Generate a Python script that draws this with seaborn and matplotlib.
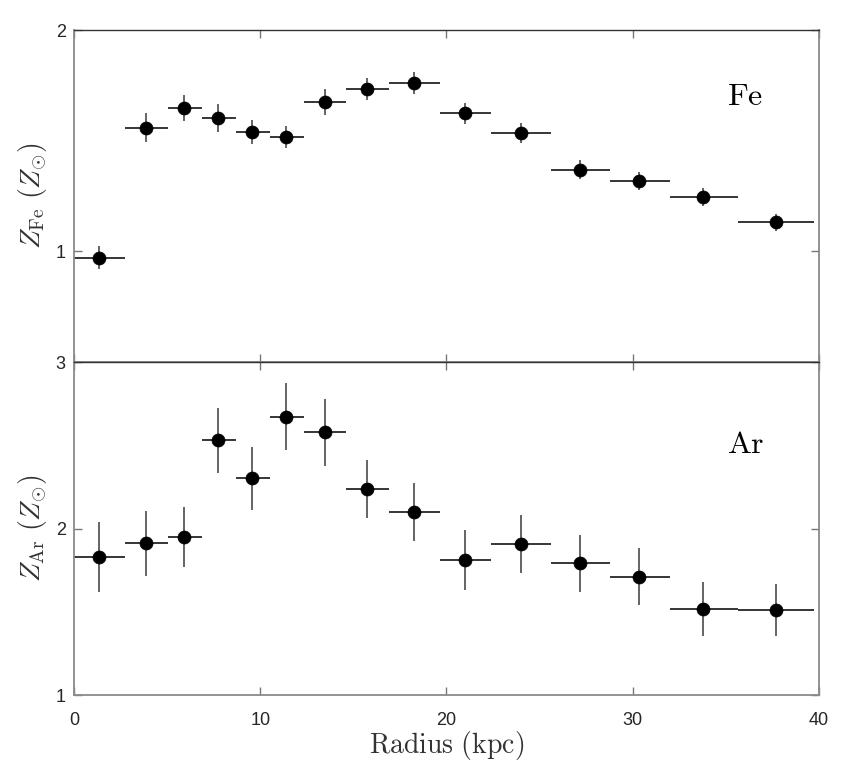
import matplotlib
matplotlib.use("Agg")
import matplotlib.pyplot as plt
import seaborn as sns
import numpy as np
import pandas as pd

# ---- data ----
radius = [1.36, 3.88, 5.92, 7.75, 9.57, 11.38, 13.46, 15.73, 18.26, 21.01,
          23.98, 27.18, 30.35, 33.77, 37.68]
r_inner = [0.0, 2.75, 5.05, 6.87, 8.71, 10.52, 12.35, 14.62, 16.91, 19.66,
           22.39, 25.59, 28.79, 32.00, 35.65]
r_outer = [2.75, 5.05, 6.87, 8.71, 10.52, 12.35, 14.62, 16.91, 19.66, 22.39,
           25.59, 28.79, 32.00, 35.65, 39.75]

fe = [0.971, 1.558, 1.648, 1.603, 1.540, 1.516, 1.676, 1.733, 1.760, 1.623,
      1.534, 1.368, 1.317, 1.246, 1.131]
fe_err = [0.053, 0.066, 0.060, 0.063, 0.055, 0.050, 0.059, 0.050, 0.048, 0.048,
          0.045, 0.043, 0.042, 0.042, 0.037]

ar = [1.827, 1.911, 1.949, 2.530, 2.301, 2.671, 2.578, 2.239, 2.101, 1.811,
      1.909, 1.791, 1.711, 1.517, 1.512]
ar_err = [0.210, 0.194, 0.183, 0.195, 0.190, 0.200, 0.200, 0.175, 0.174, 0.182,
          0.175, 0.170, 0.172, 0.163, 0.157]

xticks = [0, 10, 20, 30, 40]
fe_yticks = [1, 2]
ar_yticks = [1, 2, 3]

# ---- style ----
sns.set_style("ticks")
plt.rcParams["font.family"] = ["Liberation Sans", "DejaVu Sans"]
plt.rcParams["mathtext.fontset"] = "cm"

df = pd.DataFrame({"radius": radius, "lo": np.array(radius) - np.array(r_inner),
                   "hi": np.array(r_outer) - np.array(radius),
                   "Fe": fe, "Fe_err": fe_err, "Ar": ar, "Ar_err": ar_err})

fig = plt.figure(figsize=(8.51, 7.70), dpi=100)
W, H = 851, 770
left, right = 74 / W, 819 / W
ax1 = fig.add_axes([left, 1 - 362 / H, right - left, (362 - 30) / H])
ax2 = fig.add_axes([left, 1 - 695 / H, right - left, (695 - 362) / H])

tick_color = "#262626"
spine_color = "#8a8a8a"

panels = [
    (ax1, "Fe", "Fe_err", (0.5, 2.0), fe_yticks, r"$Z_{\mathrm{Fe}}\ (Z_{\odot})$", r"$\mathrm{Fe}$", 1.661),
    (ax2, "Ar", "Ar_err", (1.0, 3.0), ar_yticks, r"$Z_{\mathrm{Ar}}\ (Z_{\odot})$", r"$\mathrm{Ar}$", 2.453),
]

for ax, col, ecol, ylim, yt, ylab, name, ty in panels:
    ax.errorbar(df["radius"], df[col], xerr=[df["lo"], df["hi"]], fmt="none",
                ecolor="black", elinewidth=1.1, capsize=0, zorder=2)
    ax.errorbar(df["radius"], df[col], yerr=df[ecol], fmt="none",
                ecolor="#4a4a4a", elinewidth=1.2, capsize=0, zorder=2)
    sns.scatterplot(data=df, x="radius", y=col, ax=ax, s=88, color="black",
                    edgecolor="black", linewidth=0.5, zorder=3, legend=False)
    ax.set_xlim(0, 40)
    ax.set_ylim(*ylim)
    ax.set_xticks(xticks)
    ax.set_yticks(yt)
    ax.set_yticklabels([str(v) for v in yt])
    ax.tick_params(direction="in", length=6, width=1.0, top=True, right=True,
                   labelsize=13, labelcolor=tick_color, color="#777777")
    ax.tick_params(axis="y", pad=6)
    ax.tick_params(axis="x", pad=12)
    for s in ["left", "right", "bottom"]:
        ax.spines[s].set_color(spine_color)
        ax.spines[s].set_linewidth(1.3)
    ax.spines["top"].set_color("#333333")
    ax.spines["top"].set_linewidth(1.0)
    ax.set_ylabel(ylab, fontsize=20, color="#333333", labelpad=5)
    ax.set_xlabel("")
    ax.text(35.06, ty, name, fontsize=23, ha="left", va="baseline", color="black")

ax1.tick_params(labelbottom=False)
ax2.set_xlabel(r"$\mathrm{Radius\ (kpc)}$", fontsize=20, color="#333333", labelpad=0)

fig.savefig("out.png", dpi=100)
